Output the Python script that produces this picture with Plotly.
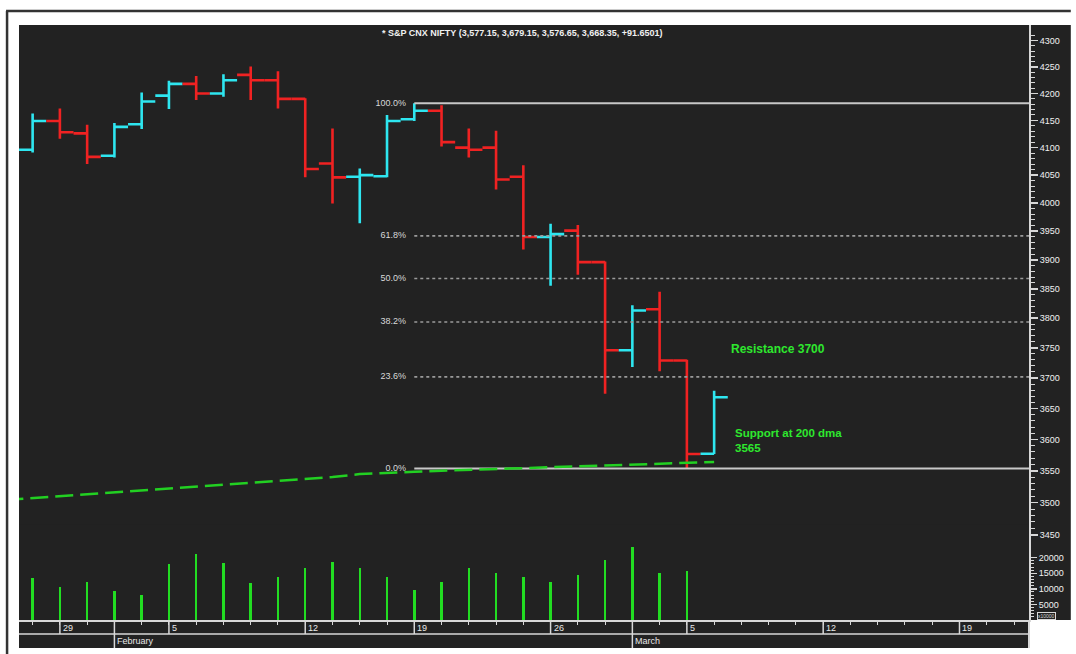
import plotly.graph_objects as go

# ---------------- data ----------------
idx = list(range(26))
opens = [4096, 4149, 4126, 4085, 4143, 4196, 4218, 4200, 4235, 4225, 4190, 4071, 4047,
         4048, 4152, 4168, 4100, 4100, 4047, 3940, 3951, 3896, 3746, 3815, 3729, 3577.15]
highs = [4163, 4172, 4142, 4145, 4202, 4224, 4233, 4236, 4251, 4242, 4191, 4135, 4062,
         4160, 4182, 4178, 4135, 4131, 4068, 3963, 3961, 3897, 3822, 3845, 3730, 3679.15]
lows = [4091, 4116, 4070, 4082, 4134, 4171, 4188, 4194, 4188, 4172, 4046, 3999, 3964,
        4046, 4149, 4102, 4082, 4024, 3918, 3855, 3874, 3674, 3718, 3711, 3553.6, 3576.65]
closes = [4149, 4128, 4083, 4138, 4185, 4218, 4200, 4225, 4225, 4190, 4061, 4046, 4050,
          4149, 4168, 4110, 4096, 4042, 3940, 3945, 3896, 3746, 3813, 3729, 3576.7, 3668.35]

vol_idx = list(range(25))
volumes = [13600, 10700, 12300, 9400, 8000, 17900, 21100, 18200, 11800, 13900, 16800, 18700,
           16600, 13900, 9600, 12100, 16800, 15000, 13900, 12300, 14600, 19400, 23300, 15000, 15600]

dma_idx = list(range(-1, 26))
dma = [3504.3, 3507.2, 3510.3, 3513.5, 3516.6, 3519.8, 3522.9, 3525.3, 3527.6, 3530.8, 3533.9,
       3537.1, 3540.2, 3544.9, 3547.3, 3548.6, 3550.2, 3551.6, 3553.3, 3554.4, 3555.7,
       3556.8, 3558.4, 3560.0, 3561.3, 3562.4, 3564.0]

fib_high = 4181.7
fib_low = 3553.6
fib_ratios = [1.0, 0.618, 0.5, 0.382, 0.236, 0.0]
fib_labels = ["100.0%", "61.8%", "50.0%", "38.2%", "23.6%", "0.0%"]
fib_start = 14

day_ticks = list(range(37))
date_idx = [1, 5, 10, 14, 19, 24, 29, 34]
date_text = ["29", "5", "12", "19", "26", "5", "12", "19"]
month_idx = [3, 22]
month_text = ["February", "March"]

price_ticks = list(range(3450, 4301, 50))
price_minor = [v for v in range(3450, 4311, 10) if v % 50]
vol_ticks = [5000, 10000, 15000, 20000]
vol_minor = [v for v in range(1000, 21000, 1000) if v % 5000]

title_text = "* S&P CNX NIFTY (3,577.15, 3,679.15, 3,576.65, 3,668.35, +91.6501)"

# ---------------- styling ----------------
BG = "#222222"
CYAN = "#2ee6f0"
RED = "#f02222"
GREEN = "#2ee82e"
FONT = "Liberation Sans"
X_START = -0.5
X_END = 36.55

fig = go.Figure()

# Fibonacci lines
for r, lab in zip(fib_ratios, fib_labels):
    lvl = fib_low + r * (fib_high - fib_low)
    solid = r in (0.0, 1.0)
    fig.add_trace(go.Scatter(
        x=[fib_start, X_END], y=[lvl, lvl], mode="lines",
        line=dict(color="#c8c8c8" if solid else "#9a9a9a", width=2 if solid else 1.6,
                  dash="solid" if solid else "3px,3px"),
        hoverinfo="skip", yaxis="y"))
    fig.add_trace(go.Scatter(
        x=[fib_start - 0.3], y=[lvl], mode="text", text=[lab],
        textposition="middle left",
        textfont=dict(family=FONT, size=9, color="#d8d8d8"),
        hoverinfo="skip", yaxis="y"))

# 200 dma
fig.add_trace(go.Scatter(
    x=dma_idx, y=dma, mode="lines",
    line=dict(color="#22d022", width=2.5, dash="18px,7px"),
    hoverinfo="skip", yaxis="y", cliponaxis=True))

# OHLC bars
fig.add_trace(go.Ohlc(
    x=idx, open=opens, high=highs, low=lows, close=closes,
    increasing=dict(line=dict(color=CYAN, width=2.6)),
    decreasing=dict(line=dict(color=RED, width=2.6)),
    tickwidth=0.5, yaxis="y"))

# Volume
fig.add_trace(go.Bar(
    x=vol_idx, y=volumes, width=0.09, marker=dict(color="#22dd22", line=dict(width=0)),
    yaxis="y2", hoverinfo="skip"))

# ---------------- layout ----------------
W, H = 1076, 654
L, R, T, B = 19, 42, 25, 34
pw = W - L - R
ph = H - T - B


def px_x(x):
    return (x - L) / pw


def px_y(y):
    return (H - B - y) / ph


shapes = [
    dict(type="rect", xref="paper", yref="paper", x0=1, x1=px_x(W), y0=0, y1=1,
         fillcolor=BG, line=dict(width=0), layer="below"),
    dict(type="rect", xref="paper", yref="paper", x0=0, x1=1, y0=px_y(648), y1=0,
         fillcolor=BG, line=dict(width=0), layer="below"),
    dict(type="line", xref="paper", yref="paper", x0=0, x1=1, y0=px_y(634), y1=px_y(634),
         line=dict(color="#d8d8d8", width=1.5)),
    dict(type="line", xref="paper", yref="paper", x0=1, x1=1, y0=0, y1=px_y(648),
         line=dict(color="#d8d8d8", width=2)),
    dict(type="line", xref="paper", yref="paper", x0=px_x(6), x1=px_x(W), y0=px_y(11), y1=px_y(11),
         line=dict(color="#333333", width=2.5)),
    dict(type="line", xref="paper", yref="paper", x0=px_x(7), x1=px_x(7), y0=px_y(11), y1=px_y(H),
         line=dict(color="#333333", width=2.5)),
]
for i in date_idx:
    shapes.append(dict(type="line", xref="x", yref="paper", x0=i, x1=i, y0=0, y1=px_y(634),
                       line=dict(color="#d8d8d8", width=1.5)))
for i in month_idx:
    shapes.append(dict(type="line", xref="x", yref="paper", x0=i, x1=i, y0=0, y1=px_y(648),
                       line=dict(color="#d8d8d8", width=1.5)))

annotations = []
for i, t in zip(date_idx, date_text):
    annotations.append(dict(x=i, y=px_y(628), xref="x", yref="paper", text=t, showarrow=False,
                            xanchor="left", yanchor="middle", xshift=1,
                            font=dict(family=FONT, size=9, color="#e8e8e8")))
for i, t in zip(month_idx, month_text):
    annotations.append(dict(x=i, y=px_y(641), xref="x", yref="paper", text=t, showarrow=False,
                            xanchor="left", yanchor="middle", xshift=1,
                            font=dict(family=FONT, size=9, color="#e8e8e8")))
annotations.append(dict(x=px_x(525), y=px_y(33), xref="paper", yref="paper",
                        text="<b>" + title_text + "</b>", showarrow=False,
                        xanchor="center", yanchor="middle",
                        font=dict(family=FONT, size=9, color="#f0f0f0")))
annotations.append(dict(x=25.55, y=px_y(349), xref="x", yref="paper",
                        text="<b>Resistance 3700</b>", showarrow=False,
                        xanchor="left", yanchor="middle",
                        font=dict(family=FONT, size=12, color=GREEN)))
annotations.append(dict(x=25.7, y=px_y(440), xref="x", yref="paper",
                        text="<b>Support at 200 dma<br>3565</b>", showarrow=False,
                        xanchor="left", yanchor="middle", align="left",
                        font=dict(family=FONT, size=11.5, color=GREEN)))
annotations.append(dict(x=px_x(1052), y=px_y(616), xref="paper", yref="paper",
                        text="x10000", showarrow=False, xanchor="center", yanchor="middle",
                        bordercolor="#d8d8d8", borderwidth=1, borderpad=0,
                        font=dict(family=FONT, size=5, color="#d8d8d8")))

fig.update_layout(
    width=W, height=H,
    margin=dict(l=L, r=R, t=T, b=B, pad=0),
    paper_bgcolor="white", plot_bgcolor=BG,
    showlegend=False,
    bargap=0,
    hovermode=False,
    xaxis=dict(range=[X_START, X_END], rangeslider=dict(visible=False),
               showgrid=False, zeroline=False, showline=True, linecolor="#d8d8d8", linewidth=2,
               tickmode="array", tickvals=day_ticks, ticks="outside", ticklen=3,
               tickcolor="#d8d8d8", tickwidth=1, showticklabels=False),
    yaxis=dict(type="log", range=[3.52136, 3.63651], domain=[0, 1], side="right",
               showgrid=False, zeroline=False, showline=True, linecolor="#d8d8d8", linewidth=2,
               tickmode="array", tickvals=price_ticks, ticktext=[str(v) for v in price_ticks],
               ticks="outside", ticklen=7, tickwidth=1.5, tickcolor="#d8d8d8",
               tickfont=dict(family=FONT, size=9, color="#f0f0f0"),
               minor=dict(tickvals=price_minor, ticks="outside", ticklen=4,
                          tickcolor="#d8d8d8", tickwidth=1, showgrid=False)),
    yaxis2=dict(domain=[0, 0.16], range=[0, 30578], anchor="x", side="right",
                showgrid=False, zeroline=False, showline=False,
                tickmode="array", tickvals=vol_ticks, ticktext=[str(v) for v in vol_ticks],
                ticks="outside", ticklen=7, tickwidth=1.5, tickcolor="#d8d8d8",
                tickfont=dict(family=FONT, size=9, color="#f0f0f0"),
                minor=dict(tickvals=vol_minor, ticks="outside", ticklen=4,
                           tickcolor="#d8d8d8", tickwidth=1, showgrid=False)),
    shapes=shapes,
    annotations=annotations,
)

fig.write_html("out.html", config={"displayModeBar": False, "staticPlot": True},
               post_script="document.body.style.margin='0';document.body.style.overflow='hidden';")
